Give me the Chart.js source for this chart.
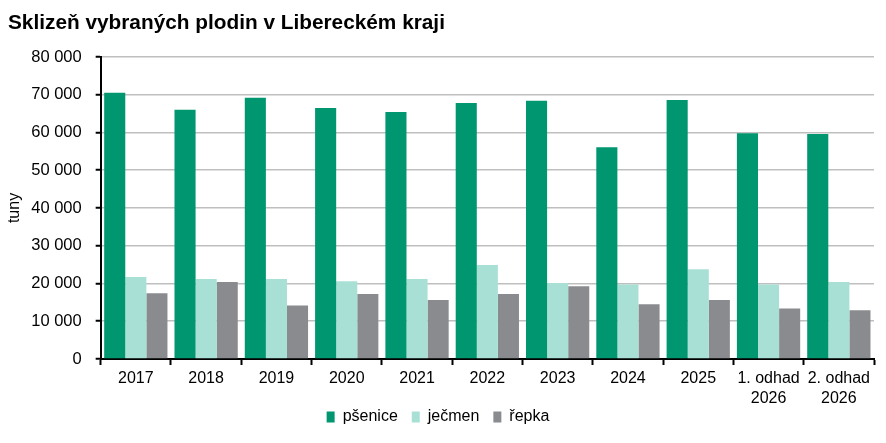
<!DOCTYPE html>
<html>
<head>
<meta charset="utf-8">
<script src="https://cdn.jsdelivr.net/npm/chart.js@4"></script>
<style>
  html, body { margin: 0; padding: 0; background: #fff; }
  #wrap { width: 886px; height: 443px; }
</style>
</head>
<body>
<div id="wrap"><canvas id="barChart" width="886" height="443"></canvas></div>
<script>
// data (tonnes)
const categories = ["2017", "2018", "2019", "2020", "2021", "2022", "2023", "2024", "2025", ["1. odhad", "2026"], ["2. odhad", "2026"]];
const psenice = [70500, 66000, 69200, 66500, 65400, 67800, 68400, 56100, 68600, 59800, 59600];
const jecmen = [21700, 21200, 21200, 20600, 21200, 24900, 20100, 19700, 23800, 19700, 20400];
const repka = [17400, 20400, 14200, 17200, 15600, 17200, 19300, 14500, 15600, 13400, 12900];
const yTicks = [0, 10000, 20000, 30000, 40000, 50000, 60000, 70000, 80000];

const fontFamily = "'Liberation Sans', Arial, sans-serif";
const legendGap = 14; // horizontal gap between legend items
const legendLift = 4; // legend sits a little closer to the axis labels

function formatThousands(v) {
    return v.toString().replace(/\B(?=(\d{3})+(?!\d))/g, " ");
}

// legend: keep the wide horizontal gap but drop the vertical padding from the layout,
// and nudge the title a bit to the right
const layoutTweaks = {
    id: "layoutTweaks",
    beforeInit(chart) {
        const legend = chart.legend;
        if (legend && !legend._patched) {
            const fit = legend.fit;
            legend.fit = function () {
                fit.call(this);
                this.height -= 2 * legendGap;
            };
            legend._patched = true;
        }
    },
    afterLayout(chart) {
        if (chart.legend) {
            // grow the box back so the items are not clipped
            chart.legend.top -= legendGap + legendLift;
            chart.legend.bottom += legendGap - legendLift;
            chart.legend.height += 2 * legendGap;
        }
        if (chart.titleBlock) {
            chart.titleBlock.left += 6;
        }
    }
};

const ctx = document.getElementById("barChart").getContext("2d");
new Chart(ctx, {
    type: "bar",
    data: {
        labels: categories,
        datasets: [
            { label: "pšenice", data: psenice, backgroundColor: "#009670" },
            { label: "ječmen", data: jecmen, backgroundColor: "#A8E0D6" },
            { label: "řepka", data: repka, backgroundColor: "#898B8E" }
        ]
    },
    options: {
        responsive: false,
        animation: false,
        categoryPercentage: 0.9,
        barPercentage: 1.0,
        layout: { padding: { left: 2, right: 12, top: 0, bottom: 18 } },
        plugins: {
            title: {
                display: true,
                text: "Sklizeň vybraných plodin v Libereckém kraji",
                align: "start",
                color: "#000",
                font: { family: fontFamily, size: 20.8, weight: "bold" },
                padding: { top: 11, bottom: 21 }
            },
            legend: {
                position: "bottom",
                labels: {
                    color: "#000",
                    boxWidth: 8,
                    boxHeight: 11,
                    padding: legendGap,
                    font: { family: fontFamily, size: 16 }
                }
            },
            tooltip: { enabled: false }
        },
        scales: {
            x: {
                border: { color: "#000", width: 2 },
                grid: {
                    drawOnChartArea: false,
                    drawTicks: true,
                    tickLength: 6,
                    tickColor: "#000",
                    tickWidth: 2
                },
                ticks: {
                    color: "#000",
                    padding: 4,
                    maxRotation: 0,
                    autoSkip: false,
                    font: { family: fontFamily, size: 16, lineHeight: 1.25 }
                }
            },
            y: {
                min: 0,
                max: 80000,
                afterBuildTicks: (axis) => {
                    axis.ticks = yTicks.map(v => ({ value: v }));
                },
                afterFit: (axis) => {
                    axis.width -= 11;
                },
                border: { color: "#000", width: 2 },
                grid: {
                    color: "#BFBFBF",
                    lineWidth: 1.5,
                    tickColor: "#000",
                    tickLength: 5,
                    tickWidth: 2
                },
                ticks: {
                    color: "#000",
                    padding: 14,
                    callback: (v) => formatThousands(v),
                    font: { family: fontFamily, size: 16.5 }
                },
                title: {
                    display: true,
                    text: "tuny",
                    color: "#000",
                    padding: { top: 3, bottom: 4 },
                    font: { family: fontFamily, size: 16 }
                }
            }
        }
    },
    plugins: [layoutTweaks]
});
</script>
</body>
</html>
